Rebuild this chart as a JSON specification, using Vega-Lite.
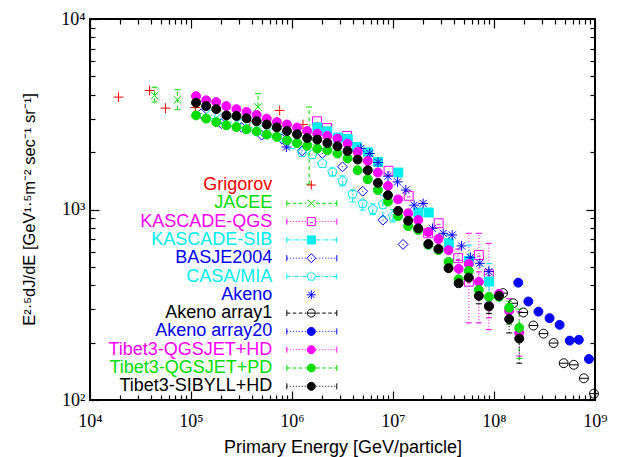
{
 "$schema": "https://vega.github.io/schema/vega-lite/v6.json",
 "width": 505, "height": 381,
 "autosize": {"type": "none"},
 "padding": {"left": 90, "top": 19, "right": 23, "bottom": 57},
 "background": "white",
 "config": {
  "view": {"stroke": "black", "strokeWidth": 2},
  "axis": {"grid": false, "domain": false, "tickColor": "black", "tickWidth": 1.2, "labelColor": "black", "labelFont": "Liberation Serif", "labelFontSize": 18, "labelOverlap": false, "labelBound": false, "labelFlush": false, "titleColor": "black", "titleFont": "Liberation Sans", "titleFontSize": 18, "titleFontWeight": "normal"}
 },
 "datasets": {
  "pts": [
   {"s":"Grigorov","E":19140,"F":3890},{"s":"Grigorov","E":38900,"F":4217},{"s":"Grigorov","E":55980,"F":3404},{"s":"Grigorov","E":110400,"F":3428},{"s":"Grigorov","E":381100,"F":2911},{"s":"Grigorov","E":755100,"F":3311},{"s":"Grigorov","E":1285000,"F":2793},
   {"s":"JACEE","E":43650,"F":3963},{"s":"JACEE","E":73450,"F":3767},{"s":"JACEE","E":461300,"F":3451},{"s":"JACEE","E":1479000,"F":2291},
   {"s":"KASCADE-QGS","E":1770000,"F":2904},{"s":"KASCADE-QGS","E":2223000,"F":2679},{"s":"KASCADE-QGS","E":3508000,"F":2432},{"s":"KASCADE-QGS","E":9036000,"F":1596},{"s":"KASCADE-QGS","E":14290000,"F":1180},{"s":"KASCADE-QGS","E":22280000,"F":750},{"s":"KASCADE-QGS","E":28310000,"F":847},{"s":"KASCADE-QGS","E":44160000,"F":555},{"s":"KASCADE-QGS","E":56360000,"F":418},{"s":"KASCADE-QGS","E":70790000,"F":577},{"s":"KASCADE-QGS","E":88920000,"F":457},
   {"s":"KASCADE-SIB","E":1782000,"F":2698},{"s":"KASCADE-SIB","E":2234000,"F":2570},{"s":"KASCADE-SIB","E":2851000,"F":2388},{"s":"KASCADE-SIB","E":3565000,"F":2344},{"s":"KASCADE-SIB","E":4406000,"F":2128},{"s":"KASCADE-SIB","E":5649000,"F":1995},{"s":"KASCADE-SIB","E":7129000,"F":1778},{"s":"KASCADE-SIB","E":11300000,"F":1563},{"s":"KASCADE-SIB","E":17860000,"F":964},{"s":"KASCADE-SIB","E":22590000,"F":964},{"s":"KASCADE-SIB","E":35730000,"F":665},{"s":"KASCADE-SIB","E":56490000,"F":537},{"s":"KASCADE-SIB","E":89540000,"F":419},
   {"s":"BASJE2004","E":125900,"F":3184},{"s":"BASJE2004","E":199500,"F":2825},{"s":"BASJE2004","E":316200,"F":2698},{"s":"BASJE2004","E":501200,"F":2455},{"s":"BASJE2004","E":794300,"F":2344},{"s":"BASJE2004","E":1259000,"F":2032},{"s":"BASJE2004","E":1995000,"F":1968},{"s":"BASJE2004","E":3162000,"F":1675},{"s":"BASJE2004","E":5012000,"F":1247},{"s":"BASJE2004","E":7943000,"F":879},{"s":"BASJE2004","E":12590000,"F":656},
   {"s":"CASA/MIA","E":158500,"F":3148},{"s":"CASA/MIA","E":199500,"F":2999},{"s":"CASA/MIA","E":251200,"F":2877},{"s":"CASA/MIA","E":316200,"F":2825},{"s":"CASA/MIA","E":398100,"F":2710},{"s":"CASA/MIA","E":501200,"F":2606},{"s":"CASA/MIA","E":631000,"F":2512},{"s":"CASA/MIA","E":794300,"F":2393},{"s":"CASA/MIA","E":1000000,"F":2188},{"s":"CASA/MIA","E":1259000,"F":1991},{"s":"CASA/MIA","E":1585000,"F":1941},{"s":"CASA/MIA","E":1995000,"F":1742},{"s":"CASA/MIA","E":2512000,"F":1574},{"s":"CASA/MIA","E":3162000,"F":1413},{"s":"CASA/MIA","E":3981000,"F":1205},{"s":"CASA/MIA","E":5012000,"F":1076},{"s":"CASA/MIA","E":6310000,"F":1002},{"s":"CASA/MIA","E":7943000,"F":1064},{"s":"CASA/MIA","E":10000000,"F":923},
   {"s":"Akeno","E":881000,"F":2128},{"s":"Akeno","E":4797000,"F":2089},{"s":"Akeno","E":5888000,"F":1968},{"s":"Akeno","E":7112000,"F":1766},{"s":"Akeno","E":8933000,"F":1496},{"s":"Akeno","E":11090000,"F":1396},{"s":"Akeno","E":13400000,"F":1265},{"s":"Akeno","E":16180000,"F":1054},{"s":"Akeno","E":19860000,"F":1076},{"s":"Akeno","E":24600000,"F":796},{"s":"Akeno","E":31410000,"F":750},{"s":"Akeno","E":38550000,"F":735},{"s":"Akeno","E":47750000,"F":644},{"s":"Akeno","E":58610000,"F":561},{"s":"Akeno","E":72440000,"F":522},{"s":"Akeno","E":88920000,"F":472},
   {"s":"Akeno array1","E":123000000,"F":364},{"s":"Akeno array1","E":154900000,"F":322},{"s":"Akeno array1","E":195000000,"F":288},{"s":"Akeno array1","E":245500000,"F":246},{"s":"Akeno array1","E":309000000,"F":223},{"s":"Akeno array1","E":389000000,"F":199},{"s":"Akeno array1","E":489800000,"F":156},{"s":"Akeno array1","E":616600000,"F":153},{"s":"Akeno array1","E":776200000,"F":130},{"s":"Akeno array1","E":977200000,"F":108},
   {"s":"Akeno array20","E":173800000,"F":413},{"s":"Akeno array20","E":218800000,"F":329},{"s":"Akeno array20","E":275400000,"F":291},{"s":"Akeno array20","E":354800000,"F":269},{"s":"Akeno array20","E":446700000,"F":248},{"s":"Akeno array20","E":562300000,"F":205},{"s":"Akeno array20","E":691800000,"F":207},{"s":"Akeno array20","E":871000000,"F":164},
   {"s":"Tibet3-QGSJET+HD","E":112200,"F":3936},{"s":"Tibet3-QGSJET+HD","E":141300,"F":3741},{"s":"Tibet3-QGSJET+HD","E":177800,"F":3664},{"s":"Tibet3-QGSJET+HD","E":223900,"F":3491},{"s":"Tibet3-QGSJET+HD","E":281800,"F":3365},{"s":"Tibet3-QGSJET+HD","E":354800,"F":3251},{"s":"Tibet3-QGSJET+HD","E":446700,"F":3133},{"s":"Tibet3-QGSJET+HD","E":562300,"F":2999},{"s":"Tibet3-QGSJET+HD","E":707900,"F":2877},{"s":"Tibet3-QGSJET+HD","E":891300,"F":2793},{"s":"Tibet3-QGSJET+HD","E":1122000,"F":2692},{"s":"Tibet3-QGSJET+HD","E":1413000,"F":2582},{"s":"Tibet3-QGSJET+HD","E":1778000,"F":2500},{"s":"Tibet3-QGSJET+HD","E":2239000,"F":2432},{"s":"Tibet3-QGSJET+HD","E":2818000,"F":2355},{"s":"Tibet3-QGSJET+HD","E":3548000,"F":2218},{"s":"Tibet3-QGSJET+HD","E":4467000,"F":2004},{"s":"Tibet3-QGSJET+HD","E":5623000,"F":1799},{"s":"Tibet3-QGSJET+HD","E":7079000,"F":1563},{"s":"Tibet3-QGSJET+HD","E":8913000,"F":1330},{"s":"Tibet3-QGSJET+HD","E":11220000,"F":1130},{"s":"Tibet3-QGSJET+HD","E":14130000,"F":955},{"s":"Tibet3-QGSJET+HD","E":17780000,"F":881},{"s":"Tibet3-QGSJET+HD","E":22390000,"F":762},{"s":"Tibet3-QGSJET+HD","E":28180000,"F":700},{"s":"Tibet3-QGSJET+HD","E":35480000,"F":612},{"s":"Tibet3-QGSJET+HD","E":44670000,"F":488},{"s":"Tibet3-QGSJET+HD","E":56230000,"F":518},{"s":"Tibet3-QGSJET+HD","E":70790000,"F":417},{"s":"Tibet3-QGSJET+HD","E":89130000,"F":312},{"s":"Tibet3-QGSJET+HD","E":112200000,"F":361},{"s":"Tibet3-QGSJET+HD","E":141300000,"F":294},{"s":"Tibet3-QGSJET+HD","E":177800000,"F":225},
   {"s":"Tibet3-QGSJET+PD","E":112200,"F":3119},{"s":"Tibet3-QGSJET+PD","E":141300,"F":2999},{"s":"Tibet3-QGSJET+PD","E":177800,"F":2877},{"s":"Tibet3-QGSJET+PD","E":223900,"F":2767},{"s":"Tibet3-QGSJET+PD","E":281800,"F":2710},{"s":"Tibet3-QGSJET+PD","E":354800,"F":2636},{"s":"Tibet3-QGSJET+PD","E":446700,"F":2570},{"s":"Tibet3-QGSJET+PD","E":562300,"F":2472},{"s":"Tibet3-QGSJET+PD","E":707900,"F":2404},{"s":"Tibet3-QGSJET+PD","E":891300,"F":2307},{"s":"Tibet3-QGSJET+PD","E":1122000,"F":2234},{"s":"Tibet3-QGSJET+PD","E":1413000,"F":2158},{"s":"Tibet3-QGSJET+PD","E":1778000,"F":2089},{"s":"Tibet3-QGSJET+PD","E":2239000,"F":2046},{"s":"Tibet3-QGSJET+PD","E":2818000,"F":1968},{"s":"Tibet3-QGSJET+PD","E":3548000,"F":1854},{"s":"Tibet3-QGSJET+PD","E":4467000,"F":1607},{"s":"Tibet3-QGSJET+PD","E":5623000,"F":1442},{"s":"Tibet3-QGSJET+PD","E":7079000,"F":1265},{"s":"Tibet3-QGSJET+PD","E":8913000,"F":1102},{"s":"Tibet3-QGSJET+PD","E":11220000,"F":923},{"s":"Tibet3-QGSJET+PD","E":14130000,"F":818},{"s":"Tibet3-QGSJET+PD","E":17780000,"F":780},{"s":"Tibet3-QGSJET+PD","E":22390000,"F":652},{"s":"Tibet3-QGSJET+PD","E":28180000,"F":612},{"s":"Tibet3-QGSJET+PD","E":35480000,"F":531},{"s":"Tibet3-QGSJET+PD","E":44670000,"F":430},{"s":"Tibet3-QGSJET+PD","E":56230000,"F":476},{"s":"Tibet3-QGSJET+PD","E":70790000,"F":378},{"s":"Tibet3-QGSJET+PD","E":89130000,"F":348},{"s":"Tibet3-QGSJET+PD","E":112200000,"F":348},{"s":"Tibet3-QGSJET+PD","E":141300000,"F":305},{"s":"Tibet3-QGSJET+PD","E":177800000,"F":239},
   {"s":"Tibet3-SIBYLL+HD","E":112200,"F":3639},{"s":"Tibet3-SIBYLL+HD","E":141300,"F":3491},{"s":"Tibet3-SIBYLL+HD","E":177800,"F":3365},{"s":"Tibet3-SIBYLL+HD","E":223900,"F":3119},{"s":"Tibet3-SIBYLL+HD","E":281800,"F":3097},{"s":"Tibet3-SIBYLL+HD","E":354800,"F":3013},{"s":"Tibet3-SIBYLL+HD","E":446700,"F":2904},{"s":"Tibet3-SIBYLL+HD","E":562300,"F":2793},{"s":"Tibet3-SIBYLL+HD","E":707900,"F":2698},{"s":"Tibet3-SIBYLL+HD","E":891300,"F":2582},{"s":"Tibet3-SIBYLL+HD","E":1122000,"F":2483},{"s":"Tibet3-SIBYLL+HD","E":1413000,"F":2371},{"s":"Tibet3-SIBYLL+HD","E":1778000,"F":2328},{"s":"Tibet3-SIBYLL+HD","E":2239000,"F":2234},{"s":"Tibet3-SIBYLL+HD","E":2818000,"F":2148},{"s":"Tibet3-SIBYLL+HD","E":3548000,"F":2028},{"s":"Tibet3-SIBYLL+HD","E":4467000,"F":1828},{"s":"Tibet3-SIBYLL+HD","E":5623000,"F":1607},{"s":"Tibet3-SIBYLL+HD","E":7079000,"F":1380},{"s":"Tibet3-SIBYLL+HD","E":8913000,"F":1189},{"s":"Tibet3-SIBYLL+HD","E":11220000,"F":984},{"s":"Tibet3-SIBYLL+HD","E":14130000,"F":873},{"s":"Tibet3-SIBYLL+HD","E":17780000,"F":796},{"s":"Tibet3-SIBYLL+HD","E":22390000,"F":659},{"s":"Tibet3-SIBYLL+HD","E":28180000,"F":621},{"s":"Tibet3-SIBYLL+HD","E":35480000,"F":492},{"s":"Tibet3-SIBYLL+HD","E":44670000,"F":410},{"s":"Tibet3-SIBYLL+HD","E":56230000,"F":439},{"s":"Tibet3-SIBYLL+HD","E":70790000,"F":352},{"s":"Tibet3-SIBYLL+HD","E":89130000,"F":310},{"s":"Tibet3-SIBYLL+HD","E":112200000,"F":352},{"s":"Tibet3-SIBYLL+HD","E":141300000,"F":266},{"s":"Tibet3-SIBYLL+HD","E":177800000,"F":210}
  ],
  "errs": [
   {"s":"JACEE","E":43650,"lo":3664,"hi":4385},{"s":"JACEE","E":73450,"lo":3342,"hi":4256},{"s":"JACEE","E":461300,"lo":3184,"hi":4055},{"s":"JACEE","E":1479000,"lo":1358,"hi":3451},
   {"s":"KASCADE-QGS","E":44160000,"lo":490,"hi":620},{"s":"KASCADE-QGS","E":56360000,"lo":254,"hi":750},{"s":"KASCADE-QGS","E":70790000,"lo":254,"hi":750},{"s":"KASCADE-QGS","E":88920000,"lo":234,"hi":664},
   {"s":"KASCADE-SIB","E":35730000,"lo":600,"hi":735},{"s":"KASCADE-SIB","E":56490000,"lo":440,"hi":650},{"s":"KASCADE-SIB","E":89540000,"lo":330,"hi":520},
   {"s":"CASA/MIA","E":2512000,"lo":1500,"hi":1650},{"s":"CASA/MIA","E":3162000,"lo":1330,"hi":1500},{"s":"CASA/MIA","E":3981000,"lo":1096,"hi":1262},{"s":"CASA/MIA","E":5012000,"lo":993,"hi":1119},{"s":"CASA/MIA","E":6310000,"lo":940,"hi":1070},{"s":"CASA/MIA","E":7943000,"lo":916,"hi":1190},{"s":"CASA/MIA","E":10000000,"lo":860,"hi":1000},
   {"s":"Tibet3-QGSJET+HD","E":44670000,"lo":440,"hi":540},{"s":"Tibet3-QGSJET+HD","E":70790000,"lo":370,"hi":470},{"s":"Tibet3-QGSJET+HD","E":89130000,"lo":270,"hi":360},{"s":"Tibet3-QGSJET+HD","E":141300000,"lo":250,"hi":340},{"s":"Tibet3-QGSJET+HD","E":177800000,"lo":170,"hi":290},
   {"s":"Tibet3-QGSJET+PD","E":70790000,"lo":340,"hi":420},{"s":"Tibet3-QGSJET+PD","E":141300000,"lo":250,"hi":330},{"s":"Tibet3-QGSJET+PD","E":177800000,"lo":165,"hi":300},
   {"s":"Tibet3-SIBYLL+HD","E":70790000,"lo":320,"hi":385},{"s":"Tibet3-SIBYLL+HD","E":89130000,"lo":285,"hi":335},{"s":"Tibet3-SIBYLL+HD","E":141300000,"lo":225,"hi":290},{"s":"Tibet3-SIBYLL+HD","E":177800000,"lo":156,"hi":238}
  ]
 },
 "layer": [
  {
   "data": {"name": "errs"},
   "mark": {"type": "rule", "strokeWidth": 1},
   "encoding": {
    "x": {"field": "E", "type": "quantitative", "scale": {"type": "log", "domain": [10000, 1000000000], "nice": false},
      "axis": {"orient": "top", "labels": false, "title": null, "values": [10000,20000,30000,40000,50000,60000,70000,80000,90000,100000,200000,300000,400000,500000,600000,700000,800000,900000,1000000,2000000,3000000,4000000,5000000,6000000,7000000,8000000,9000000,10000000,20000000,30000000,40000000,50000000,60000000,70000000,80000000,90000000,100000000,200000000,300000000,400000000,500000000,600000000,700000000,800000000,900000000,1000000000],
        "tickSize": {"condition": {"test": "abs(log(datum.value)/LN10-round(log(datum.value)/LN10))<0.001", "value": -9}, "value": -5}}},
    "y": {"field": "lo", "type": "quantitative", "scale": {"type": "log", "domain": [100, 10000], "nice": false},
      "axis": {"orient": "right", "labels": false, "title": null, "values": [100,200,300,400,500,600,700,800,900,1000,2000,3000,4000,5000,6000,7000,8000,9000,10000],
        "tickSize": {"condition": {"test": "abs(log(datum.value)/LN10-round(log(datum.value)/LN10))<0.001", "value": -9}, "value": -5}}},
    "y2": {"field": "hi"},
    "stroke": {"field": "s", "type": "nominal", "scale": {"domain": ["Akeno","Akeno array1","Akeno array20","BASJE2004","CASA/MIA","Grigorov","JACEE","KASCADE-QGS","KASCADE-SIB","Tibet3-QGSJET+HD","Tibet3-QGSJET+PD","Tibet3-SIBYLL+HD"], "range": ["#0000ff","#000000","#0000ff","#0000ff","#00eeee","#ff0000","#00dd00","#ff00ff","#00eeee","#ff00ff","#00dd00","#000000"]}, "legend": null},
    "strokeDash": {"field": "s", "type": "nominal", "scale": {"domain": ["Akeno","Akeno array1","Akeno array20","BASJE2004","CASA/MIA","Grigorov","JACEE","KASCADE-QGS","KASCADE-SIB","Tibet3-QGSJET+HD","Tibet3-QGSJET+PD","Tibet3-SIBYLL+HD"], "range": [[1,0],[3,3],[1,2],[1,2],[5,2,1,2],[1,0],[4,3],[1,2],[5,2,1,2],[1,2],[4,3],[1,2]]}, "legend": null}
   }
  },
  {
   "data": {"name": "errs"},
   "mark": {"type": "point", "shape": "M-1,0H1", "size": 36, "filled": false, "strokeWidth": 1, "opacity": 1},
   "encoding": {
    "x": {"field": "E", "type": "quantitative", "scale": {"type": "log", "domain": [10000, 1000000000], "nice": false}, "axis": null},
    "y": {"field": "lo", "type": "quantitative", "scale": {"type": "log", "domain": [100, 10000], "nice": false}, "axis": null},
    "stroke": {"field": "s", "type": "nominal", "legend": null}
   }
  },
  {
   "data": {"name": "errs"},
   "mark": {"type": "point", "shape": "M-1,0H1", "size": 36, "filled": false, "strokeWidth": 1, "opacity": 1},
   "encoding": {
    "x": {"field": "E", "type": "quantitative", "scale": {"type": "log", "domain": [10000, 1000000000], "nice": false}, "axis": null},
    "y": {"field": "hi", "type": "quantitative", "scale": {"type": "log", "domain": [100, 10000], "nice": false}, "axis": null},
    "stroke": {"field": "s", "type": "nominal", "legend": null}
   }
  },
  {
   "data": {"name": "pts"},
   "mark": {"type": "point", "filled": true, "size": 80, "strokeWidth": 1, "opacity": 1},
   "encoding": {
    "x": {"field": "E", "type": "quantitative", "scale": {"type": "log", "domain": [10000, 1000000000], "nice": false},
      "axis": {"orient": "bottom", "values": [10000,20000,30000,40000,50000,60000,70000,80000,90000,100000,200000,300000,400000,500000,600000,700000,800000,900000,1000000,2000000,3000000,4000000,5000000,6000000,7000000,8000000,9000000,10000000,20000000,30000000,40000000,50000000,60000000,70000000,80000000,90000000,100000000,200000000,300000000,400000000,500000000,600000000,700000000,800000000,900000000,1000000000],
        "labelExpr": "abs(log(datum.value)/LN10-round(log(datum.value)/LN10))<0.001 ? '10' + ['⁰','¹','²','³','⁴','⁵','⁶','⁷','⁸','⁹'][round(log(datum.value)/LN10)] : ''",
        "tickSize": {"condition": {"test": "abs(log(datum.value)/LN10-round(log(datum.value)/LN10))<0.001", "value": -9}, "value": -5},
        "labelPadding": 21, "labelBaseline": "top",
        "title": "Primary Energy [GeV/particle]", "titleX": 252.5, "titleY": 47, "titleBaseline": "middle", "titleAlign": "center"}},
    "y": {"field": "F", "type": "quantitative", "scale": {"type": "log", "domain": [100, 10000], "nice": false},
      "axis": {"orient": "left", "values": [100,200,300,400,500,600,700,800,900,1000,2000,3000,4000,5000,6000,7000,8000,9000,10000],
        "labelExpr": "abs(log(datum.value)/LN10-round(log(datum.value)/LN10))<0.001 ? '10' + ['⁰','¹','²','³','⁴','⁵','⁶','⁷','⁸','⁹'][round(log(datum.value)/LN10)] : ''",
        "tickSize": {"condition": {"test": "abs(log(datum.value)/LN10-round(log(datum.value)/LN10))<0.001", "value": -9}, "value": -5},
        "labelPadding": 14, "labelBaseline": "middle", "labelAlign": "right",
        "title": "E²·⁵dJ/dE [GeV¹·⁵m⁻² sec⁻¹ sr⁻¹]", "titleFontSize": 16.5, "titleX": -61, "titleY": 190, "titleAngle": -90, "titleBaseline": "middle", "titleAlign": "center"}},
    "shape": {"field": "s", "type": "nominal", "scale": {"domain": ["Akeno","Akeno array1","Akeno array20","BASJE2004","CASA/MIA","Grigorov","JACEE","KASCADE-QGS","KASCADE-SIB","Tibet3-QGSJET+HD","Tibet3-QGSJET+PD","Tibet3-SIBYLL+HD"],
      "range": ["M-1.1,0H1.1M0,-1.1V1.1M-0.8,-0.8L0.8,0.8M-0.8,0.8L0.8,-0.8","M1,0A1,1,0,1,1,-1,0A1,1,0,1,1,1,0ZM-1,0H1","M1,0A1,1,0,1,1,-1,0A1,1,0,1,1,1,0Z","M0,-1.1L1.1,0L0,1.1L-1.1,0ZM-0.12,0H0.12","M0,-1.1L1.046,-0.34L0.647,0.89L-0.647,0.89L-1.046,-0.34ZM-0.12,0.1H0.12","M-1.1,0H1.1M0,-1.1V1.1","M-0.85,-0.85L0.85,0.85M-0.85,0.85L0.85,-0.85","M-1,-1H1V1H-1ZM-0.4,0.25H0.4","M-1,-1H1V1H-1Z","circle","circle","circle"]}, "legend": null},
    "stroke": {"field": "s", "type": "nominal", "legend": null},
    "fill": {"field": "s", "type": "nominal", "scale": {"domain": ["Grigorov","JACEE","KASCADE-QGS","KASCADE-SIB","BASJE2004","CASA/MIA","Akeno","Akeno array1","Akeno array20","Tibet3-QGSJET+HD","Tibet3-QGSJET+PD","Tibet3-SIBYLL+HD"],
      "range": ["transparent","transparent","transparent","#00eeee","transparent","transparent","transparent","transparent","#0000ff","#ff00ff","#00dd00","#000000"]},
      "legend": {"orient": "none", "legendX": 173.3, "legendY": 157, "title": null, "padding": 0,
        "labelAlign": "right", "labelBaseline": "middle", "labelFont": "Liberation Sans", "labelFontSize": 18, "labelLimit": 400, "labelOffset": -9,
        "symbolSize": 4, "symbolStrokeWidth": 1, "symbolOpacity": 1, "rowPadding": 0.3,
        "labelExpr": "datum.value == 'Grigorov' ? 'Grigorov\u2002' : datum.label",
        "symbolType": {"expr": "['M34.5,0H43.5M39,-4.5V4.5','M14.5,-3V3M64.5,-3V3M14.5,0H18M20.5,0H24M26.5,0H30M32.5,0H34M44,0H47.5M50,0H53.5M56,0H59.5M62,0H64.5M35.5,-3.5L42.5,3.5M35.5,3.5L42.5,-3.5','M14.5,-3V3M64.5,-3V3M14.5,0h1M17.5,0h1M20.5,0h1M23.5,0h1M26.5,0h1M29.5,0h1M32.5,0h1M44,0h1M47,0h1M50,0h1M53,0h1M56,0h1M59,0h1M62,0h1M35,-4H43V4H35ZM37.5,1H40.5','M14.5,-3V3M64.5,-3V3M14.5,0H18.5M20,0H21M22.5,0H26.5M28,0H29M30.5,0H34M44,0H48M49.5,0H50.5M52,0H56M57.5,0H58.5M60,0H64.5M35,-4H43V4H35Z','M14.5,-3V3M64.5,-3V3M14.5,0h1M17.5,0h1M20.5,0h1M23.5,0h1M26.5,0h1M29.5,0h1M32.5,0h1M44,0h1M47,0h1M50,0h1M53,0h1M56,0h1M59,0h1M62,0h1M39,-4.5L43.5,0L39,4.5L34.5,0ZM38.5,0H39.5','M14.5,-3V3M64.5,-3V3M14.5,0H18.5M20,0H21M22.5,0H26.5M28,0H29M30.5,0H34M44,0H48M49.5,0H50.5M52,0H56M57.5,0H58.5M60,0H64.5M39,-4.5L43.28,-1.39L41.65,3.64L36.35,3.64L34.72,-1.39ZM38.5,0.5H39.5','M34.5,0H43.5M39,-4.5V4.5M35.8,-3.2L42.2,3.2M35.8,3.2L42.2,-3.2','M14.5,-3V3M64.5,-3V3M14.5,0H18M20.5,0H24M26.5,0H30M32.5,0H34M44,0H47.5M50,0H53.5M56,0H59.5M62,0H64.5M43,0A4,4,0,1,1,35,0A4,4,0,1,1,43,0ZM35,0H43','M14.5,-3V3M64.5,-3V3M14.5,0h1M17.5,0h1M20.5,0h1M23.5,0h1M26.5,0h1M29.5,0h1M32.5,0h1M44,0h1M47,0h1M50,0h1M53,0h1M56,0h1M59,0h1M62,0h1M43,0A4,4,0,1,1,35,0A4,4,0,1,1,43,0Z','M14.5,-3V3M64.5,-3V3M14.5,0h1M17.5,0h1M20.5,0h1M23.5,0h1M26.5,0h1M29.5,0h1M32.5,0h1M44,0h1M47,0h1M50,0h1M53,0h1M56,0h1M59,0h1M62,0h1M43,0A4,4,0,1,1,35,0A4,4,0,1,1,43,0Z','M14.5,-3V3M64.5,-3V3M14.5,0H18M20.5,0H24M26.5,0H30M32.5,0H34M44,0H47.5M50,0H53.5M56,0H59.5M62,0H64.5M43,0A4,4,0,1,1,35,0A4,4,0,1,1,43,0Z','M14.5,-3V3M64.5,-3V3M14.5,0h1M17.5,0h1M20.5,0h1M23.5,0h1M26.5,0h1M29.5,0h1M32.5,0h1M44,0h1M47,0h1M50,0h1M53,0h1M56,0h1M59,0h1M62,0h1M43,0A4,4,0,1,1,35,0A4,4,0,1,1,43,0Z'][indexof(['Grigorov','JACEE','KASCADE-QGS','KASCADE-SIB','BASJE2004','CASA/MIA','Akeno','Akeno array1','Akeno array20','Tibet3-QGSJET+HD','Tibet3-QGSJET+PD','Tibet3-SIBYLL+HD'], datum.value)]"},
        "symbolStrokeColor": {"expr": "['#ff0000','#00dd00','#ff00ff','#00eeee','#0000ff','#00eeee','#0000ff','#000000','#0000ff','#ff00ff','#00dd00','#000000'][indexof(['Grigorov','JACEE','KASCADE-QGS','KASCADE-SIB','BASJE2004','CASA/MIA','Akeno','Akeno array1','Akeno array20','Tibet3-QGSJET+HD','Tibet3-QGSJET+PD','Tibet3-SIBYLL+HD'], datum.value)]"},
        "labelColor": {"expr": "['#ff0000','#00dd00','#ff00ff','#00eeee','#0000ff','#00eeee','#0000ff','#000000','#0000ff','#ff00ff','#00dd00','#000000'][indexof(['Grigorov','JACEE','KASCADE-QGS','KASCADE-SIB','BASJE2004','CASA/MIA','Akeno','Akeno array1','Akeno array20','Tibet3-QGSJET+HD','Tibet3-QGSJET+PD','Tibet3-SIBYLL+HD'], datum.value)]"}
      }
    }
   }
  }
 ],
 "resolve": {"axis": {"x": "independent", "y": "independent"}}
}
